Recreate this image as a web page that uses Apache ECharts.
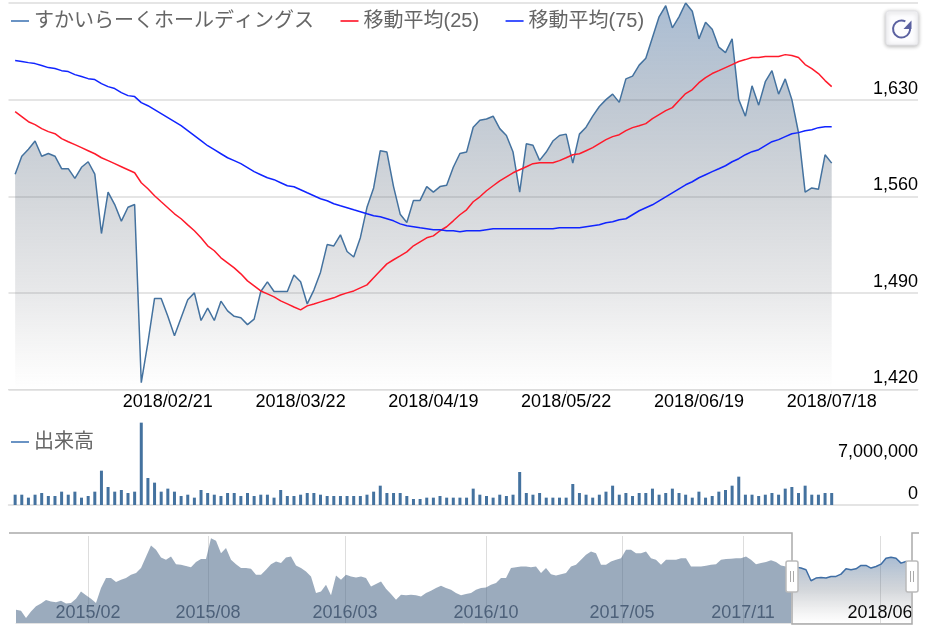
<!DOCTYPE html>
<html><head><meta charset="utf-8">
<style>html,body{margin:0;padding:0;background:#fff}#c{width:942px;height:636px}</style>
<script src="https://cdn.jsdelivr.net/npm/echarts@6/dist/echarts.min.js"></script>
</head><body><div id="c"></div>
<script>
const dates = [
"2018/01/18","2018/01/19","2018/01/22","2018/01/23","2018/01/24","2018/01/25","2018/01/26","2018/01/29","2018/01/30","2018/01/31",
"2018/02/01","2018/02/02","2018/02/05","2018/02/06","2018/02/07","2018/02/08","2018/02/09","2018/02/13","2018/02/14","2018/02/15",
"2018/02/16","2018/02/19","2018/02/20","2018/02/21","2018/02/22","2018/02/23","2018/02/26","2018/02/27","2018/02/28","2018/03/01",
"2018/03/02","2018/03/05","2018/03/06","2018/03/07","2018/03/08","2018/03/09","2018/03/12","2018/03/13","2018/03/14","2018/03/15",
"2018/03/16","2018/03/19","2018/03/20","2018/03/22","2018/03/23","2018/03/26","2018/03/27","2018/03/28","2018/03/29","2018/03/30",
"2018/04/02","2018/04/03","2018/04/04","2018/04/05","2018/04/06","2018/04/09","2018/04/10","2018/04/11","2018/04/12","2018/04/13",
"2018/04/16","2018/04/17","2018/04/18","2018/04/19","2018/04/20","2018/04/23","2018/04/24","2018/04/25","2018/04/26","2018/04/27",
"2018/05/01","2018/05/02","2018/05/07","2018/05/08","2018/05/09","2018/05/10","2018/05/11","2018/05/14","2018/05/15","2018/05/16",
"2018/05/17","2018/05/18","2018/05/21","2018/05/22","2018/05/23","2018/05/24","2018/05/25","2018/05/28","2018/05/29","2018/05/30",
"2018/05/31","2018/06/01","2018/06/04","2018/06/05","2018/06/06","2018/06/07","2018/06/08","2018/06/11","2018/06/12","2018/06/13",
"2018/06/14","2018/06/15","2018/06/18","2018/06/19","2018/06/20","2018/06/21","2018/06/22","2018/06/25","2018/06/26","2018/06/27",
"2018/06/28","2018/06/29","2018/07/02","2018/07/03","2018/07/04","2018/07/05","2018/07/06","2018/07/09","2018/07/10","2018/07/11",
"2018/07/12","2018/07/13","2018/07/17","2018/07/18"];
const tickDates = ["2018/02/21","2018/03/22","2018/04/19","2018/05/22","2018/06/19","2018/07/18"];
const priceClose = [
1576,1589,1594,1600,1589,1591,1589,1580,1580,1573,
1581,1585,1576,1533,1563,1554,1542,1552,1554,1425,
1454,1486,1486,1473,1459,1472,1485,1490,1470,1479,
1470,1484,1477,1473,1472,1467,1471,1491,1498,1491,
1491,1491,1503,1498,1482,1492,1505,1525,1524,1532,
1520,1516,1530,1552,1566,1593,1592,1567,1547,1541,
1557,1557,1567,1563,1567,1568,1581,1591,1592,1610,
1615,1616,1618,1609,1604,1592,1563,1598,1597,1586,
1592,1600,1604,1605,1584,1605,1610,1618,1625,1630,
1634,1628,1645,1647,1655,1660,1675,1690,1698,1682,
1690,1700,1694,1674,1686,1681,1668,1664,1674,1630,
1618,1640,1626,1643,1651,1634,1645,1630,1606,1563,
1566,1565,1590,1584];
const ma25 = [
1621.3,1617.7,1614.0,1611.9,1609.0,1606.8,1605.3,1601.7,1599.5,1597.4,
1595.2,1593.0,1590.8,1587.9,1585.8,1583.6,1581.4,1579.2,1577.0,1569.8,
1565.4,1560.4,1556.0,1551.7,1547.3,1543.7,1539.3,1535.0,1529.9,1524.1,
1520.5,1515.4,1511.8,1508.1,1503.8,1498.7,1495.1,1491.4,1489.3,1487.1,
1484.2,1482.0,1479.8,1477.7,1480.6,1482.0,1483.5,1485.0,1486.4,1488.5,
1490.0,1491.4,1493.6,1495.8,1500.9,1506.0,1511.0,1514.0,1516.8,1519.7,
1524.1,1527.0,1529.9,1531.3,1535.0,1537.9,1542.2,1546.6,1550.2,1556.0,
1559.6,1564.0,1567.6,1571.2,1574.1,1577.0,1579.2,1581.4,1583.6,1584.3,
1584.3,1584.3,1585.8,1587.9,1590.1,1590.8,1593.0,1595.2,1598.1,1601.0,
1603.2,1604.6,1607.5,1609.7,1611.1,1612.6,1616.2,1619.1,1622.0,1624.2,
1629.3,1634.4,1637.3,1642.3,1646.0,1648.9,1651.0,1653.2,1655.4,1657.6,
1659.0,1660.5,1660.5,1661.2,1661.2,1661.2,1662.6,1661.9,1660.5,1655.4,
1652.5,1648.9,1643.8,1639.4];
const ma75 = [
1658.3,1657.6,1656.8,1656.1,1654.7,1653.2,1652.5,1651.0,1650.3,1648.1,
1646.7,1645.2,1644.5,1641.6,1639.4,1638.0,1635.1,1632.9,1632.2,1627.8,
1625.6,1622.7,1619.8,1616.9,1614.0,1611.1,1607.5,1603.9,1600.3,1596.6,
1593.7,1590.8,1587.9,1585.8,1583.6,1580.7,1577.8,1575.6,1573.4,1572.0,
1569.8,1567.6,1566.9,1564.7,1562.5,1560.4,1558.2,1556.7,1554.6,1553.1,
1551.7,1550.2,1548.8,1547.3,1545.9,1545.1,1543.7,1542.2,1540.0,1538.6,
1537.9,1537.1,1536.4,1535.7,1535.7,1535.0,1535.0,1534.2,1535.0,1535.0,
1535.0,1535.7,1536.4,1536.4,1536.4,1536.4,1536.4,1536.4,1536.4,1536.4,
1536.4,1536.4,1537.1,1537.1,1537.1,1537.1,1537.9,1538.6,1539.3,1540.8,
1541.5,1543.0,1543.7,1546.6,1549.5,1551.7,1553.8,1556.7,1559.6,1562.5,
1565.4,1568.3,1570.5,1573.4,1575.6,1577.8,1579.9,1582.1,1585.0,1587.2,
1590.1,1592.3,1593.7,1596.6,1599.5,1601.0,1603.2,1605.3,1606.1,1607.5,
1608.2,1609.7,1610.4,1610.4];
const volume = [
1740000,1740000,1240000,1740000,2020000,1520000,1520000,2250000,1740000,2250000,
1240000,1520000,2250000,5790000,3040000,2250000,2530000,2020000,2250000,13890000,
4550000,3770000,2250000,2760000,2250000,1520000,1740000,1240000,2530000,2020000,
1740000,1520000,2020000,2020000,1520000,2020000,1520000,1740000,1740000,1240000,
2530000,1520000,1520000,1740000,2020000,2020000,1740000,1520000,1520000,1520000,
1520000,1520000,1520000,1740000,2250000,3260000,2020000,2020000,2020000,1520000,
1010000,1010000,1240000,1240000,1520000,1240000,1240000,1240000,1240000,2760000,
1740000,1520000,1240000,1740000,1520000,1740000,5570000,2020000,1740000,2020000,
1240000,1240000,1240000,1240000,3540000,2020000,1740000,1240000,1740000,2250000,
3260000,1740000,2020000,1520000,2020000,2020000,2760000,1740000,2020000,2760000,
2020000,1740000,1240000,2250000,1240000,1520000,2250000,2530000,3260000,4780000,
1740000,1740000,1520000,1740000,2020000,1740000,2760000,3040000,2020000,3260000,
1740000,1740000,2020000,2020000];
const navHistory = [
1086,1074,988,1066,1125,1160,1199,1183,1172,1191,
1160,1164,1215,1300,1254,1215,1164,1340,1457,1457,
1410,1437,1457,1496,1515,1574,1706,1839,1788,1698,
1671,1710,1620,1613,1597,1585,1644,1679,1679,1925,
1893,1749,1808,1671,1620,1574,1574,1566,1496,1496,
1554,1620,1652,1632,1698,1710,1605,1574,1535,1476,
1281,1300,1379,1254,1488,1437,1496,1476,1464,1476,
1457,1359,1386,1418,1332,1269,1203,1262,1254,1262,
1254,1242,1281,1308,1340,1367,1340,1320,1281,1254,
1269,
1281,1320,1340,1347,1379,1398,1457,1457,1574,1585,
1593,1593,1585,1593,1515,1574,1503,1488,1503,1515,
1593,1613,1671,1730,1769,1749,1613,1613,1652,1671,
1690,1788,1788,1749,1749,1769,1690,1671,1613,1671,
1671,1671,1690,1690,1593,1593,1593,1601,1613,1620,
1671,1679,1683,1690,1690,1710,1671,1620,1632,1644,
1667,1644,1605,1593,1581];
const navSelected = [
1581,1585,1574,1554,1425,1457,1464,1457,1476,1476,
1503,1566,1554,1566,1605,1605,1574,1593,1620,1690,
1702,1690,1632,1652,1640];
const navTickLabels = ["2015/02","2015/08","2016/03","2016/10","2017/05","2017/11","2018/06"];
const navTickPos = [14.4,38.4,65.8,94,121.2,145.4,172.8];

const FONT = '"Liberation Sans","Noto Sans CJK JP",sans-serif';
const GRID = '#dcdcdc';
const PAD_START = 1, PAD_END = 13;
const pad = a => Array(PAD_START).fill(null).concat(a, Array(PAD_END).fill(null));
const cats = Array(PAD_START).fill('').concat(dates, Array(PAD_END).fill(''));
const isTick = (i, v) => tickDates.includes(v);
const fmt = v => Number(v).toLocaleString('en-US');
const grad = s => new echarts.graphic.LinearGradient(0,0,0,1,s.map(([o,c])=>({offset:o,color:c})));

const chart = echarts.init(document.getElementById('c'), null, {renderer:'canvas'});
const FRAME = {stroke:'#aaaaaa', lineWidth:1.5, fill:null};
const handle = x => ({type:'group', children:[
  {type:'rect', z:110, shape:{x:x,y:561,width:12,height:31,r:2}, style:{fill:'#fff',stroke:'#bbbbbb',lineWidth:1.5}},
  {type:'line', z:111, shape:{x1:x+4.5,y1:571,x2:x+4.5,y2:582}, style:{stroke:'#aaaaaa',lineWidth:1}},
  {type:'line', z:111, shape:{x1:x+7.5,y1:571,x2:x+7.5,y2:582}, style:{stroke:'#aaaaaa',lineWidth:1}}
]});
chart.setOption({
  animation:false,
  textStyle:{fontFamily:FONT},
  legend:[
    {left:11,top:11,itemWidth:18,itemHeight:2,itemGap:26.5,icon:'rect',padding:0,
     data:[{name:'すかいらーくホールディングス',itemStyle:{color:'#6a93c4'}},
           {name:'移動平均(25)',itemStyle:{color:'#ff4050'}},
           {name:'移動平均(75)',itemStyle:{color:'#4055ff'}}],
     textStyle:{fontSize:20,color:'#666',fontFamily:FONT},selectedMode:false},
    {left:11,top:432,itemWidth:18,itemHeight:2,icon:'rect',padding:0,
     data:[{name:'出来高',itemStyle:{color:'#6a93c4'}}],
     textStyle:{fontSize:20,color:'#666',fontFamily:FONT},selectedMode:false}
  ],
  grid:[
    {left:8.5,right:24,top:3,height:386.5},
    {left:8.5,right:24,top:422,height:83},
    {left:16,right:31,top:536,height:87}
  ],
  xAxis:[
    {type:'category',gridIndex:0,data:cats,boundaryGap:false,
     axisLine:{lineStyle:{color:GRID,width:1}},
     axisTick:{show:true,interval:isTick,length:4,lineStyle:{color:GRID}},
     axisLabel:{interval:isTick,fontSize:18,color:'#000',margin:4,hideOverlap:false},
     splitLine:{show:false}},
    {type:'category',gridIndex:1,data:cats,boundaryGap:false,
     axisLine:{lineStyle:{color:GRID,width:1.5}},axisTick:{show:false},axisLabel:{show:false},splitLine:{show:false}},
    {type:'value',gridIndex:2,min:0,max:179,
     axisLine:{show:true,lineStyle:{color:'#e2e2e2',width:1}},
     axisTick:{show:false,customValues:navTickPos},
     axisLabel:{inside:true,margin:1,fontSize:18,customValues:navTickPos,
       formatter:v=>{const i=navTickPos.indexOf(v);return i===navTickLabels.length-1?'{b|'+navTickLabels[i]+'}':'{a|'+navTickLabels[i]+'}';},
       rich:{a:{color:'#535b6a',fontSize:18},b:{color:'#000',fontSize:18}}},
     splitLine:{show:true,lineStyle:{color:'#dddddd',width:1}}}
  ],
  yAxis:[
    {type:'value',gridIndex:0,position:'right',min:1420,max:1700,interval:70,
     axisLine:{show:false},axisTick:{show:false},
     axisLabel:{inside:true,margin:0,fontSize:18,color:'#000',showMaxLabel:false,verticalAlign:'bottom',lineHeight:22,formatter:fmt},
     splitLine:{lineStyle:{color:GRID,width:1.5}}},
    {type:'value',gridIndex:1,position:'right',min:0,max:14000000,interval:7000000,
     axisLine:{show:false},axisTick:{show:false},
     axisLabel:{inside:true,margin:0,fontSize:18,color:'#000',showMaxLabel:false,verticalAlign:'bottom',lineHeight:22,formatter:fmt},
     splitLine:{show:false}},
    {type:'value',gridIndex:2,min:930,max:1950,show:false,splitLine:{show:false}}
  ],
  series:[
    {name:'すかいらーくホールディングス',type:'line',xAxisIndex:0,yAxisIndex:0,data:pad(priceClose),
     symbol:'none',smooth:false,itemStyle:{color:'#6a93c4'},lineStyle:{color:'#44729f',width:1.5},
     areaStyle:{opacity:1,color:grad([[0,'rgba(65,108,158,0.45)'],[0.25,'rgba(80,105,135,0.37)'],[0.5,'rgba(98,110,125,0.28)'],[0.75,'rgba(110,115,125,0.16)'],[1,'rgba(130,130,130,0.0)']])}},
    {name:'移動平均(25)',type:'line',xAxisIndex:0,yAxisIndex:0,data:pad(ma25),symbol:'none',
     itemStyle:{color:'#ff4050'},lineStyle:{color:'#ff1a2b',width:1.5}},
    {name:'移動平均(75)',type:'line',xAxisIndex:0,yAxisIndex:0,data:pad(ma75),symbol:'none',
     itemStyle:{color:'#4055ff'},lineStyle:{color:'#1024ff',width:1.5}},
    {name:'出来高',type:'bar',xAxisIndex:1,yAxisIndex:1,data:pad(volume),barWidth:3,
     itemStyle:{color:'#44729f'}},
    {name:'navHistory',type:'line',xAxisIndex:2,yAxisIndex:2,data:navHistory.map((v,k)=>[k,v]),symbol:'none',
     lineStyle:{width:0},areaStyle:{color:'rgba(73,102,135,0.55)',opacity:1}},
    {name:'navSelected',type:'line',xAxisIndex:2,yAxisIndex:2,
     data:navSelected.map((v,k)=>[navHistory.length-1+k,v]),symbol:'none',
     lineStyle:{color:'#3f6ea5',width:1.5},
     areaStyle:{opacity:1,color:grad([[0,'rgba(65,108,158,0.45)'],[0.5,'rgba(98,110,125,0.28)'],[1,'rgba(130,130,130,0.0)']])}}
  ],
  graphic:[
    {type:'rect',z:100,shape:{x:913,y:596,width:8,height:27},style:{fill:'#fff'}},
    {type:'polyline',z:105,shape:{points:[[9,533],[792,533],[792,624],[912,624],[912,533],[919,533]]},style:FRAME},
    handle(786), handle(906),
    {type:'rect',z:110,shape:{x:886,y:11,width:32,height:34,r:3},
     style:{fill:'#fcfcfe',stroke:'#e4e4e8',lineWidth:1,shadowBlur:4,shadowColor:'rgba(0,0,0,0.3)',shadowOffsetY:1}},
    {type:'arc',z:111,shape:{cx:901.5,cy:29,r:8.5,startAngle:-Math.PI*0.1,endAngle:Math.PI*1.65,clockwise:true},
     style:{stroke:'#5a60a0',lineWidth:2,fill:null}},
    {type:'polygon',z:111,shape:{points:[[911.5,20.5],[911.5,29],[903.5,29]]},style:{fill:'#5a60a0'}}
  ]
});
</script></body></html>
